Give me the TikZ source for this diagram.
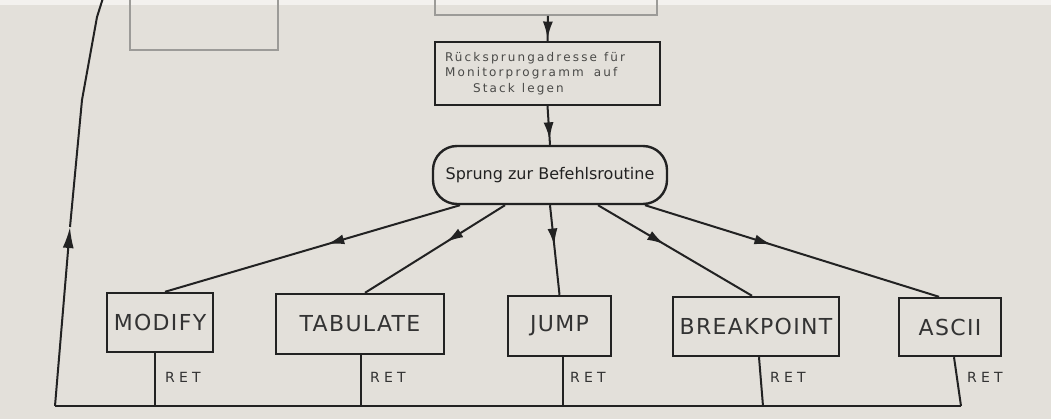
\documentclass[tikz,border=0pt]{standalone}
\usepackage{fontspec}
\setmainfont{DejaVu Sans}
\newfontfamily\lblfont[LetterSpace=6]{DejaVu Sans}
\newfontfamily\retfont[LetterSpace=30]{DejaVu Sans}
\newfontfamily\smallfont[LetterSpace=18]{DejaVu Sans}
\usetikzlibrary{arrows.meta,decorations.markings}
\definecolor{bg}{HTML}{E3E0DA}
\definecolor{ink}{HTML}{222222}
\definecolor{txt}{HTML}{333333}
\definecolor{faint}{HTML}{9C9B98}
\definecolor{small}{HTML}{4A4A48}
\begin{document}
\begin{tikzpicture}[x=1pt,y=-1pt,
  line/.style={draw=ink, line width=2pt},
  midarrow/.style={postaction={decorate}, decoration={markings, mark=at position #1 with {\arrow{Latex[length=17pt,width=10pt]}}}},
  box/.style={draw=ink, line width=2.4pt, rectangle, inner sep=0pt, text=txt, font=\lblfont\fontsize{22}{26}\selectfont},
  retlbl/.style={anchor=west, inner sep=0pt, text=txt, font=\retfont\fontsize{14}{16}\selectfont},
  ghost/.style={draw=faint, line width=1.6pt}
]
\useasboundingbox (0,0) rectangle (1051,419);
\fill[bg] (0,0) rectangle (1051,419);
\fill[white!55!bg] (0,0) rectangle (1051,5);
\clip (0,0) rectangle (1051,419);

% faint remains of the previous part of the chart
\node[ghost, rectangle, minimum width=148pt, minimum height=80pt, inner sep=0pt] (oldleft) at (204,10) {};
\node[draw=faint, line width=1.6pt, rectangle, minimum width=222pt, minimum height=50pt, inner sep=0pt] (prev) at (546,-10) {};

% top box
\node[draw=ink, line width=2.2pt, rectangle, minimum width=225pt, minimum height=57pt,
      text width=205pt, inner sep=10pt, align=left, text=small,
      font=\smallfont\fontsize{12}{15.5}\selectfont] (stack) at (547.5,73.5)
  {Rücksprungadresse\hspace{7pt}für\\Monitorprogramm\hspace{10pt}auf\\\hspace*{28pt}Stack\hspace{7pt}legen};

% rounded jump node
\node[draw=ink, line width=2.4pt, rectangle, rounded corners=24pt, minimum width=234pt,
      minimum height=58pt, inner sep=0pt, text=ink, font=\fontsize{16}{19}\selectfont] (sprung) at (550,175)
  {Sprung zur Befehlsroutine};

% command boxes
\node[box, minimum width=106pt, minimum height=59pt] (modify) at (160,322.5) {MODIFY};
\node[box, minimum width=168pt, minimum height=60pt] (tabulate) at (360,324) {TABULATE};
\node[box, minimum width=103pt, minimum height=60pt] (jump) at (559.5,326) {JUMP};
\node[box, minimum width=166pt, minimum height=59pt] (breakpoint) at (756,326.5) {BREAKPOINT};
\node[box, minimum width=102pt, minimum height=58pt] (ascii) at (950,327) {ASCII};

% vertical connectors at top
\draw[line, midarrow=0.9] ([xshift=2pt]prev.south) -- (stack.north);
\draw[line, midarrow=0.86] (stack.south) -- (sprung.north);

% fan-out connectors
\draw[line, midarrow=0.45] ([xshift=-90pt]sprung.south) -- ([xshift=5pt]modify.north);
\draw[line, midarrow=0.42] ([xshift=-45pt]sprung.south) -- ([xshift=5pt]tabulate.north);
\draw[line, midarrow=0.45] (sprung.south) -- (jump.north);
\draw[line, midarrow=0.43] ([xshift=48pt]sprung.south) -- ([xshift=-4pt]breakpoint.north);
\draw[line, midarrow=0.43] ([xshift=95pt]sprung.south) -- ([xshift=-11pt]ascii.north);

% return lines
\coordinate (bus0) at (55,406);
\coordinate (r1) at (155,406);
\coordinate (r2) at (361,406);
\coordinate (r3) at (563,406);
\coordinate (r4) at (763,406);
\coordinate (r5) at (961,406);
\draw[line] ([xshift=-5pt]modify.south) -- (r1);
\draw[line] ([xshift=1pt]tabulate.south) -- (r2);
\draw[line] ([xshift=3.5pt]jump.south) -- (r3);
\draw[line] ([xshift=3pt]breakpoint.south) -- (r4);
\draw[line] ([xshift=4pt]ascii.south) -- (r5);
\draw[line] (r5) -- (bus0);

\node[retlbl] (ret1) at (165,377) {RET};
\node[retlbl] (ret2) at (370,377) {RET};
\node[retlbl] (ret3) at (570,377) {RET};
\node[retlbl] (ret4) at (770,377) {RET};
\node[retlbl] (ret5) at (967,377) {RET};

% long return line on the left
\coordinate (l1) at (70,227);
\coordinate (l2) at (82,100);
\coordinate (l3) at (97,17);
\coordinate (l4) at (103,-2);
\draw[line, -{Latex[length=21pt,width=11pt]}] (bus0) -- (l1);
\draw[line] (l1) -- (l2) -- (l3) -- (l4);
\end{tikzpicture}
\end{document}
